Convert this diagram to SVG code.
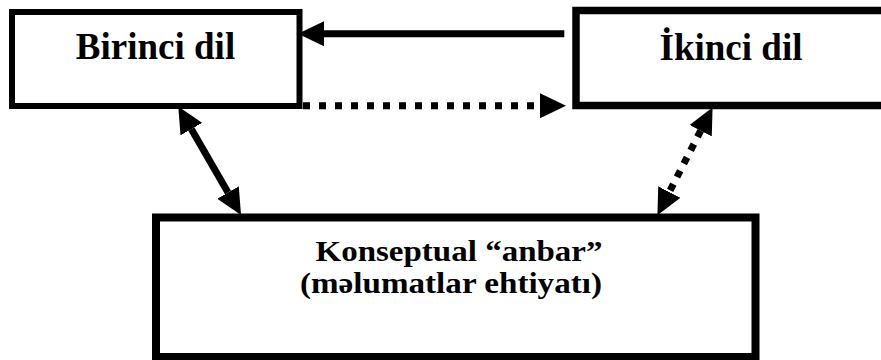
<svg xmlns="http://www.w3.org/2000/svg" width="881" height="360" viewBox="0 0 881 360">
<style>
.box{fill:#fff;stroke:#000}
.lbl{font-weight:bold;fill:#000;text-anchor:middle}
.conn{stroke:#000;stroke-width:7;fill:none}
.dot{stroke-dasharray:7 9}
</style>
<defs>
<marker id="ah" markerUnits="userSpaceOnUse" markerWidth="26" markerHeight="26" viewBox="0 0 24 23" refX="0" refY="11.5" orient="auto-start-reverse">
<path d="M0,0 L24,11.5 L0,23 z" fill="#000"/>
</marker>
</defs>
<g id="birinci">
<rect class="box" x="12" y="12" width="287.5" height="94" stroke-width="6"/>
<text class="lbl" font-family="Liberation Serif, serif" x="155.5" y="59" font-size="37">Birinci dil</text>
</g>
<g id="ikinci">
<rect class="box" x="576" y="10.5" width="310" height="95" stroke-width="7.5"/>
<text class="lbl" font-family="Liberation Serif, serif" x="731" y="60" font-size="37">İkinci dil</text>
</g>
<g id="anbar">
<rect class="box" x="156" y="217.5" width="599.5" height="139.5" stroke-width="8"/>
<text class="lbl" font-family="Liberation Serif, serif" x="459" y="261" font-size="30" textLength="287" lengthAdjust="spacingAndGlyphs">Konseptual “anbar”</text>
<text class="lbl" font-family="Liberation Serif, serif" x="451" y="293" font-size="30" textLength="302" lengthAdjust="spacingAndGlyphs">(məlumatlar ehtiyatı)</text>
</g>
<g id="connectors">
<line class="conn" x1="564.3" y1="33.7" x2="324" y2="33.7" marker-end="url(#ah)"/>
<line class="conn dot" x1="303" y1="105.7" x2="540" y2="105.7" marker-end="url(#ah)"/>
<line class="conn" x1="191.3" y1="129.1" x2="228" y2="192.5" marker-start="url(#ah)" marker-end="url(#ah)"/>
<line class="conn" style="stroke-dasharray:7 8" x1="700.7" y1="130.7" x2="669.3" y2="192" marker-start="url(#ah)" marker-end="url(#ah)"/>
</g>
</svg>
